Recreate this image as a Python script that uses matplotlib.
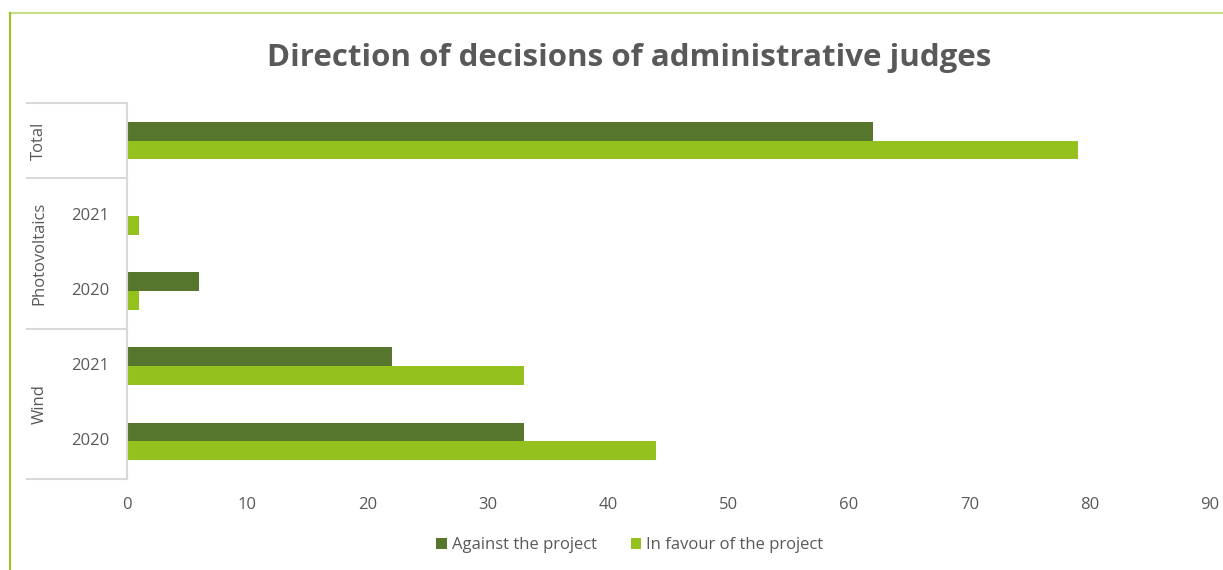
import matplotlib.pyplot as plt
from matplotlib.lines import Line2D

plt.rcParams['font.family'] = ['Open Sans', 'DejaVu Sans']

# categories from top to bottom
years = ["", "2021", "2020", "2021", "2020"]
groups = ["Total", "Photovoltaics", "Wind"]
group_rows = [(0, 0), (1, 2), (3, 4)]
against = [62, 0, 6, 22, 33]
favour = [79, 1, 1, 33, 44]

dark = "#55762c"
light = "#95c11f"
grey = "#595959"
line_grey = "#d9d9d9"

W, H = 1223, 570
fig = plt.figure(figsize=(W / 100, H / 100), dpi=100)
ax = fig.add_axes([127 / W, 1 - 479 / H, (1210 - 127) / W, (479 - 103) / H])

pos = list(range(len(years)))
bh = 0.25
ax.barh([p - bh / 2 for p in pos], against, height=bh, color=dark, label="Against the project")
ax.barh([p + bh / 2 for p in pos], favour, height=bh, color=light, label="In favour of the project")

ax.set_xlim(0, 90)
ax.set_xticks(range(0, 91, 10))
ax.set_ylim(len(years) - 0.5, -0.5)
ax.set_yticks([])
for s in ["top", "right", "bottom"]:
    ax.spines[s].set_visible(False)
ax.spines["left"].set_color(line_grey)
ax.spines["left"].set_linewidth(1.5)
ax.tick_params(axis="x", length=0, labelsize=12, labelcolor=grey, pad=13)

# two-level category axis
tr = ax.get_yaxis_transform()
x_year = -0.034
x_group = -0.081
x_edge = -0.0925
for p, y in zip(pos, years):
    if y:
        ax.text(x_year, p, y, transform=tr, ha="center", va="center", fontsize=12, color=grey)
for g, (a, b) in zip(groups, group_rows):
    ax.text(x_group, (a + b) / 2, g, transform=tr, ha="center", va="center",
            rotation=90, fontsize=12, color=grey)
bounds = [-0.5] + [b + 0.5 for _, b in group_rows]
for yb in bounds:
    ax.plot([x_edge, 0], [yb, yb], transform=tr, color=line_grey, lw=1.5, clip_on=False)

fig.text(629 / W, 1 - 58 / H, "Direction of decisions of administrative judges",
         ha="center", va="center", fontsize=22.5, fontweight="bold", color=grey)

fig.legend(loc="center", bbox_to_anchor=(630 / W, 1 - 545 / H), ncol=2, frameon=False,
           fontsize=12, labelcolor=grey, handlelength=0.65, handleheight=0.65,
           handletextpad=0.3, columnspacing=2.0)

# chart frame edges
fig.add_artist(Line2D([10 / W, 1], [1 - 13 / H, 1 - 13 / H], color="#c5df8c", lw=1.5))
fig.add_artist(Line2D([10 / W, 10 / W], [0, 1 - 13 / H], color="#9cc31c", lw=1.5))

fig.savefig("out.png", dpi=100)
